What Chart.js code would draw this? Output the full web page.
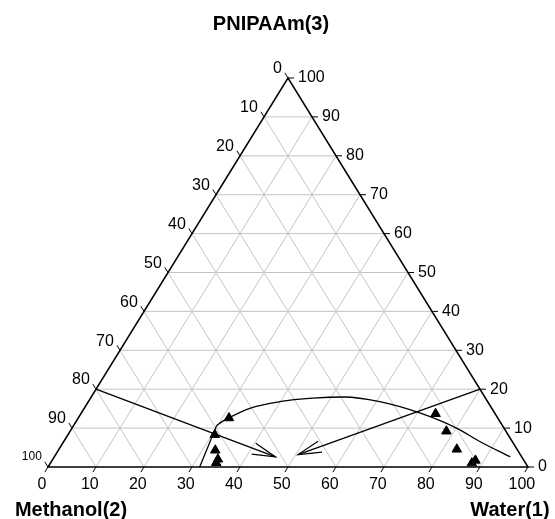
<!DOCTYPE html>
<html>
<head>
<meta charset="utf-8">
<script src="https://cdn.jsdelivr.net/npm/chart.js@4.4.0/dist/chart.umd.min.js"></script>
<style>
html, body { margin: 0; padding: 0; background: #fff; }
#wrap { width: 555px; height: 519px; }
</style>
</head>
<body>
<div id="wrap"><canvas id="ternaryChart" width="555" height="519"></canvas></div>
<script>
// ternary values: water(1) and PNIPAAm(3) in %, methanol(2) = 100 - water - polymer
const tickValues = [0, 10, 20, 30, 40, 50, 60, 70, 80, 90, 100];
const gridSteps = [10, 20, 30, 40, 50, 60, 70, 80, 90];

const cloudWater   = [31.4, 30.6, 32.7, 34.4, 34.5, 73.9, 78.4, 82.9, 88.2, 87.8];
const cloudPolymer = [12.6, 8.3, 4.3, 2.0, 1.1, 13.7, 9.2, 4.55, 1.7, 1.0];

const stemWater   = [31.6, 29.8];
const stemPolymer = [0, 10.7];

const binodalWater   = [29.8, 30.4, 31.2, 34.5, 39.9, 46.3, 52.8, 60.7, 70.5, 80.1, 86.8, 95.0];
const binodalPolymer = [10.7, 11.6, 12.5, 15.1, 16.8, 17.7, 18.0, 16.8, 13.9, 10.0, 6.5, 2.6];

const tieLeftWater    = [0, 46.1];
const tieLeftPolymer  = [20, 2.6];
const tieRightWater   = [80, 50.5];
const tieRightPolymer = [20, 3.2];

function toXY(water, polymer) {
    return water.map((w, i) => ({ x: w + polymer[i] / 2, y: polymer[i] }));
}

const FONT = '"Liberation Sans", Arial, sans-serif';

const ternaryFrame = {
    id: 'ternaryFrame',
    beforeDatasetsDraw(chart) {
        const ctx = chart.ctx;
        const xs = chart.scales.x, ys = chart.scales.y;
        const px = (w, p) => [xs.getPixelForValue(w + p / 2), ys.getPixelForValue(p)];
        const A = px(0, 0), B = px(100, 0), C = px(0, 100);

        ctx.save();
        // grid
        ctx.strokeStyle = '#c4c4c4';
        ctx.lineWidth = 1;
        ctx.beginPath();
        gridSteps.forEach(k => {
            let a = px(0, k), b = px(100 - k, k);
            ctx.moveTo(a[0], a[1]); ctx.lineTo(b[0], b[1]);
            a = px(k, 0); b = px(k, 100 - k);
            ctx.moveTo(a[0], a[1]); ctx.lineTo(b[0], b[1]);
            a = px(0, 100 - k); b = px(100 - k, 0);
            ctx.moveTo(a[0], a[1]); ctx.lineTo(b[0], b[1]);
        });
        ctx.stroke();

        // border
        ctx.strokeStyle = '#000';
        ctx.lineWidth = 1.5;
        ctx.beginPath();
        ctx.moveTo(A[0], A[1]); ctx.lineTo(B[0], B[1]); ctx.lineTo(C[0], C[1]); ctx.closePath();
        ctx.stroke();

        // tick directions
        const norm = (v) => { const l = Math.hypot(v[0], v[1]); return [v[0] / l, v[1] / l]; };
        const dBottom = norm([A[0] - C[0], A[1] - C[1]]);
        const dLeft = norm([C[0] - B[0], C[1] - B[1]]);
        const dRight = [1, 0];
        const len = 6;

        ctx.lineWidth = 1;
        ctx.fillStyle = '#000';
        tickValues.forEach(v => {
            // bottom: water
            let p0 = px(v, 0), e = [p0[0] + dBottom[0] * len, p0[1] + dBottom[1] * len];
            ctx.beginPath(); ctx.moveTo(p0[0], p0[1]); ctx.lineTo(e[0], e[1]); ctx.stroke();
            ctx.font = '16px ' + FONT;
            ctx.textAlign = 'center'; ctx.textBaseline = 'middle';
            ctx.fillText(String(v), e[0] - 3, e[1] + 12);

            // left: methanol
            p0 = px(0, 100 - v); e = [p0[0] + dLeft[0] * len, p0[1] + dLeft[1] * len];
            ctx.beginPath(); ctx.moveTo(p0[0], p0[1]); ctx.lineTo(e[0], e[1]); ctx.stroke();
            ctx.font = (v === 100 ? '12px ' : '16px ') + FONT;
            ctx.textAlign = 'right'; ctx.textBaseline = 'middle';
            ctx.fillText(String(v), e[0] - 3, e[1] - (v === 100 ? 5 : 4));

            // right: PNIPAAm
            p0 = px(100 - v, v); e = [p0[0] + dRight[0] * len, p0[1] + dRight[1] * len];
            ctx.beginPath(); ctx.moveTo(p0[0], p0[1]); ctx.lineTo(e[0], e[1]); ctx.stroke();
            ctx.font = '16px ' + FONT;
            ctx.textAlign = 'left'; ctx.textBaseline = 'middle';
            ctx.fillText(String(v), e[0] + 4, e[1]);
        });
        ctx.restore();
    },
    afterDatasetsDraw(chart) {
        // open arrowheads at the end of tie lines
        const ctx = chart.ctx;
        ctx.save();
        ctx.strokeStyle = '#000';
        ctx.lineWidth = 1.2;
        chart.data.datasets.forEach((ds, i) => {
            if (!ds.arrow) return;
            const pts = chart.getDatasetMeta(i).data;
            const tip = pts[pts.length - 1], prev = pts[pts.length - 2];
            const ang = Math.atan2(prev.y - tip.y, prev.x - tip.x);
            const spread = 14 * Math.PI / 180, L = 24;
            ctx.beginPath();
            ctx.moveTo(tip.x + Math.cos(ang + spread) * L, tip.y + Math.sin(ang + spread) * L);
            ctx.lineTo(tip.x, tip.y);
            ctx.lineTo(tip.x + Math.cos(ang - spread) * L, tip.y + Math.sin(ang - spread) * L);
            ctx.stroke();
        });
        ctx.restore();
    },
    afterDraw(chart) {
        const ctx = chart.ctx;
        ctx.save();
        ctx.fillStyle = '#000';
        ctx.font = 'bold 20px ' + FONT;
        ctx.textBaseline = 'alphabetic';
        ctx.textAlign = 'center';
        ctx.fillText('PNIPAAm(3)', 271, 30);
        ctx.fillText('Methanol(2)', 71, 516);
        ctx.fillText('Water(1)', 510, 516);
        ctx.restore();
    }
};

const lineStyle = {
    showLine: true,
    borderColor: '#000',
    borderWidth: 1.3,
    pointRadius: 0,
    pointHoverRadius: 0,
    fill: false,
    clip: false
};

new Chart(document.getElementById('ternaryChart').getContext('2d'), {
    type: 'scatter',
    data: {
        datasets: [
            { ...lineStyle, data: toXY(stemWater, stemPolymer), tension: 0 },
            { ...lineStyle, data: toXY(binodalWater, binodalPolymer), cubicInterpolationMode: 'monotone' },
            { ...lineStyle, data: toXY(tieLeftWater, tieLeftPolymer), tension: 0, arrow: true },
            { ...lineStyle, data: toXY(tieRightWater, tieRightPolymer), tension: 0, arrow: true },
            {
                data: toXY(cloudWater, cloudPolymer),
                pointStyle: 'triangle',
                pointRadius: 5.5,
                pointHoverRadius: 5.5,
                backgroundColor: '#000',
                borderColor: '#000',
                borderWidth: 1,
                showLine: false,
                clip: false
            }
        ]
    },
    options: {
        responsive: false,
        animation: false,
        devicePixelRatio: 1,
        layout: { padding: { left: 48, right: 27, top: 78, bottom: 52 } },
        scales: {
            x: { type: 'linear', min: 0, max: 100, display: false },
            y: { type: 'linear', min: 0, max: 100, display: false }
        },
        plugins: {
            legend: { display: false },
            tooltip: { enabled: false }
        }
    },
    plugins: [ternaryFrame]
});
</script>
</body>
</html>
